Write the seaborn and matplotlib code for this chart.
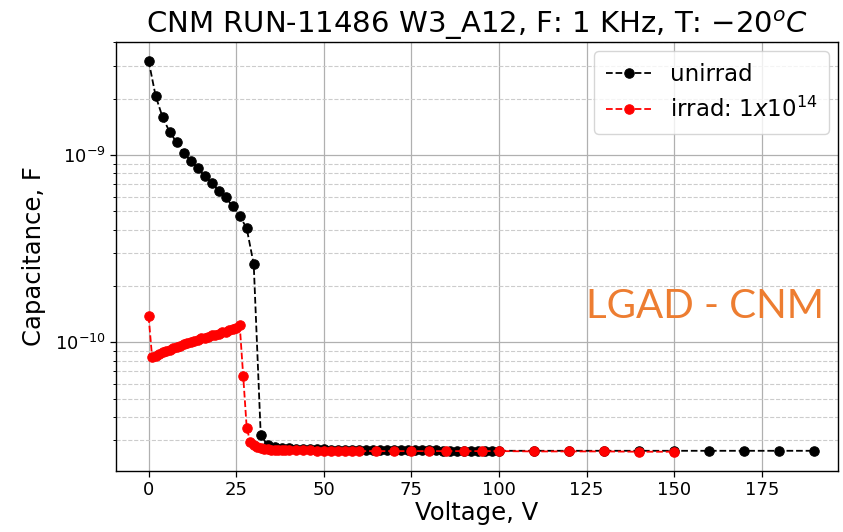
import numpy as np
import pandas as pd
import matplotlib
matplotlib.use("Agg")
import matplotlib.pyplot as plt
import matplotlib.ticker as mticker
import seaborn as sns

# ---- data ----
unirrad_v = [0, 2, 4, 6, 8, 10, 12, 14, 16, 18, 20, 22, 24, 26, 28, 30, 32,
             34, 36, 38, 40, 42, 44, 46, 48, 50, 52, 54, 56, 58, 60, 62, 64,
             66, 68, 70, 72, 74, 76, 78, 80, 82, 84, 86, 88, 90, 92, 94, 96,
             98, 100, 110, 120, 130, 140, 150, 160, 170, 180, 190]
unirrad_c = [3.19e-9, 2.07e-9, 1.59e-9, 1.33e-9, 1.17e-9, 1.03e-9, 9.3e-10,
             8.49e-10, 7.72e-10, 7.11e-10, 6.44e-10, 5.94e-10, 5.33e-10,
             4.74e-10, 4.06e-10, 2.61e-10, 3.2e-11,
             2.82e-11, 2.76e-11, 2.74e-11, 2.72e-11, 2.71e-11, 2.70e-11,
             2.70e-11, 2.69e-11, 2.69e-11, 2.68e-11, 2.68e-11, 2.68e-11,
             2.67e-11, 2.67e-11, 2.67e-11, 2.66e-11, 2.66e-11, 2.66e-11,
             2.66e-11, 2.65e-11, 2.65e-11, 2.65e-11, 2.65e-11, 2.65e-11,
             2.65e-11, 2.64e-11, 2.64e-11, 2.64e-11, 2.64e-11, 2.64e-11,
             2.64e-11, 2.64e-11, 2.64e-11, 2.64e-11,
             2.64e-11, 2.64e-11, 2.64e-11, 2.64e-11, 2.64e-11, 2.64e-11,
             2.64e-11, 2.64e-11, 2.64e-11]

irrad_v = [0, 1, 2, 3, 4, 5, 6, 7, 8, 9, 10, 11, 12, 13, 14, 15, 16, 17, 18,
           19, 20, 21, 22, 23, 24, 25, 26, 27, 28, 29, 30, 31, 32, 33, 34, 35,
           36, 37, 38, 39, 40, 42, 44, 46, 48, 50, 52, 54, 56, 58, 60,
           65, 70, 75, 80, 85, 90, 95, 100, 110, 120, 130, 140, 150]
irrad_c = [1.38e-10, 8.35e-11, 8.5e-11, 8.7e-11, 8.85e-11, 9.0e-11, 9.15e-11,
           9.3e-11, 9.45e-11, 9.6e-11, 9.75e-11, 9.9e-11, 1.0e-10, 1.02e-10,
           1.03e-10, 1.05e-10, 1.06e-10, 1.07e-10, 1.09e-10, 1.10e-10,
           1.11e-10, 1.13e-10, 1.14e-10, 1.16e-10, 1.18e-10, 1.20e-10,
           1.24e-10, 6.6e-11, 3.5e-11, 2.95e-11, 2.85e-11, 2.78e-11, 2.74e-11,
           2.71e-11, 2.69e-11, 2.68e-11, 2.67e-11, 2.67e-11, 2.66e-11,
           2.66e-11, 2.66e-11, 2.65e-11, 2.65e-11, 2.65e-11, 2.64e-11,
           2.64e-11, 2.64e-11, 2.64e-11, 2.64e-11, 2.63e-11, 2.63e-11,
           2.63e-11, 2.63e-11, 2.63e-11, 2.63e-11, 2.63e-11, 2.63e-11,
           2.63e-11, 2.63e-11, 2.62e-11, 2.62e-11, 2.62e-11, 2.61e-11,
           2.61e-11]

series_labels = ["unirrad", r"irrad: $1x10^{14}$"]
series_colors = ["black", "red"]
title = r"CNM RUN-11486 W3_A12, F: 1 KHz, T: $-20^{o}C$"
xlabel = "Voltage, V"
ylabel = "Capacitance, F"
xticks = [0, 25, 50, 75, 100, 125, 150, 175]
watermark = "LGAD - CNM"

# ---- style ----
sns.set_style("ticks")
plt.rcParams["font.family"] = ["DejaVu Sans"]
plt.rcParams["mathtext.fontset"] = "dejavusans"
plt.rcParams["text.color"] = "black"
plt.rcParams["axes.labelcolor"] = "black"

fig = plt.figure(figsize=(8.43, 5.32), dpi=100)
ax = fig.add_axes([0.1376, 0.1147, 0.8564, 0.8063])

df1 = pd.DataFrame({"V": unirrad_v, "C": unirrad_c})
df2 = pd.DataFrame({"V": irrad_v, "C": irrad_c})
for df, lab, col in [(df1, series_labels[0], series_colors[0]),
                     (df2, series_labels[1], series_colors[1])]:
    sns.lineplot(data=df, x="V", y="C", ax=ax, color=col, label=lab,
                 marker="o", markersize=6.8, markeredgecolor=col,
                 linestyle="--", linewidth=1.3, sort=False)

ax.set_yscale("log")
ax.set_xlim(-9.3, 196.7)
ax.set_ylim(2.06e-11, 4.01e-9)
ax.set_xticks(xticks)
ax.yaxis.set_minor_formatter(mticker.NullFormatter())
ax.grid(True, which="major", color="#b0b0b0", linestyle="-", linewidth=0.9)
ax.grid(True, which="minor", axis="y", color="#cccccc", linestyle="--",
        linewidth=0.8)
ax.set_axisbelow(True)
ax.tick_params(axis="both", which="major", labelsize=13, direction="out",
               length=4, width=0.9, colors="black")
ax.tick_params(axis="y", which="minor", direction="out", length=2.5, width=0.7,
               colors="black")
for s in ax.spines.values():
    s.set_color("black")
    s.set_linewidth(1.0)

ax.set_xlabel(xlabel, fontsize=17.5, labelpad=1, color="black")
ax.set_ylabel(ylabel, fontsize=17.5, labelpad=6, color="black")
ax.set_title(title, fontsize=21, pad=6, color="black")

leg = ax.legend(loc="upper right", fontsize=16.5, frameon=True, fancybox=True,
                framealpha=0.8, edgecolor="#cccccc", handlelength=2.0,
                borderpad=0.5, borderaxespad=0.4)
for t in leg.get_texts():
    t.set_color("black")

fig.text(705 / 843, 1 - 307 / 532, watermark, fontsize=29, color="#ED7D31",
         family=["Lato", "Open Sans", "DejaVu Sans"], ha="center",
         va="center")

fig.savefig("out.png", dpi=100)
